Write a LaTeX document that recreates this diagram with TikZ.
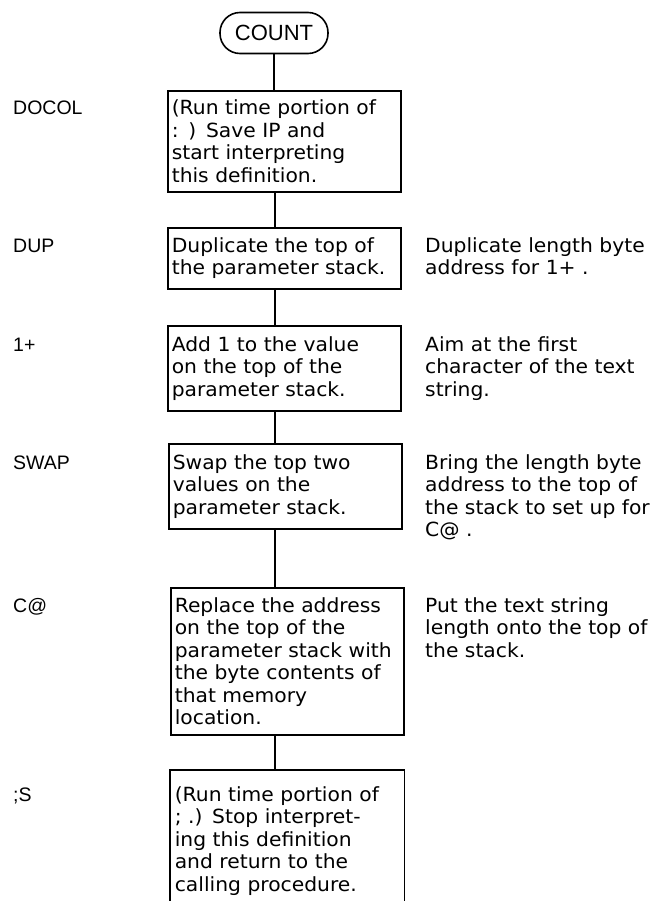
\documentclass[tikz,border=0pt]{standalone}
\usepackage{fontspec}
\setmainfont{DejaVu Sans}[FakeStretch=1.04]
\newfontfamily\lblfont{Liberation Sans}
\usetikzlibrary{positioning}

\begin{document}
\begin{tikzpicture}[
      x=1bp, y=-1bp,
      font=\fontsize{19.5bp}{22.5bp}\selectfont,
      term/.style = {draw, line width=1.6bp, rounded corners=20bp, minimum width=108bp,
                     minimum height=41bp, inner sep=0pt, font=\fontsize{22bp}{24bp}\lblfont},
      stepbox/.style = {draw, line width=1.6bp, anchor=north west, text width=225bp,
                        inner xsep=4bp, inner ysep=0pt, align=left},
      word/.style = {anchor=base west, inner sep=0pt, font=\fontsize{19.5bp}{22bp}\lblfont},
      note/.style = {anchor=base west, inner sep=0pt, text width=240bp, align=left},
      link/.style = {line width=1.6bp},
    ]
    \useasboundingbox (0,0) rectangle (652,901);
    \coordinate (spine) at (275,0);
    \coordinate (wordcol) at (13,0);
    \coordinate (notecol) at (425,0);

    \node[term] (count) at (274,33) {COUNT};

    \node[stepbox, minimum height=101bp] (s1) at (167,90)
      {(Run time portion of\\: ) Save IP and\\start interpreting\\this definition.};
    \node[stepbox, minimum height=61bp] (s2) at (167,227)
      {Duplicate the top of\\the parameter stack.};
    \node[stepbox, minimum height=85bp] (s3) at (167,325)
      {Add 1 to the value\\on the top of the\\parameter stack.};
    \node[stepbox, minimum height=85bp] (s4) at (168,443)
      {Swap the top two\\values on the\\parameter stack.};
    \node[stepbox, minimum height=147bp] (s5) at (170,587)
      {Replace the address\\on the top of the\\parameter stack with\\the byte contents of\\that memory\\location.};
    \node[stepbox, draw=none, minimum height=140bp] (s6) at (170,770)
      {(Run time portion of\\; .) Stop interpret-\\ing this definition\\and return to the\\calling procedure.};
    \draw[link] (s6.south west) |- (s6.north east) -- (s6.south east);

    \node[word] (w1) at (s1.base -| wordcol) {DOCOL};
    \node[word] (w2) at (s2.base -| wordcol) {DUP};
    \node[word] (w3) at (s3.base -| wordcol) {1+};
    \node[word] (w4) at (s4.base -| wordcol) {SWAP};
    \node[word] (w5) at (s5.base -| wordcol) {C@};
    \node[word] (w6) at (s6.base -| wordcol) {;S};

    \node[note] (n2) at (s2.base -| notecol) {Duplicate length byte\\address for 1+ .};
    \node[note] (n3) at (s3.base -| notecol) {Aim at the first\\character of the text\\string.};
    \node[note] (n4) at (s4.base -| notecol)
      {Bring the length byte\\address to the top of\\the stack to set up for\\C@ .};
    \node[note] (n5) at (s5.base -| notecol)
      {Put the text string\\length onto the top of\\the stack.};

    \draw[link] (count) -- (count |- s1.north);
    \draw[link] (s1.south -| spine) -- (s2.north -| spine);
    \draw[link] (s2.south -| spine) -- (s3.north -| spine);
    \draw[link] (s3.south -| spine) -- (s4.north -| spine);
    \draw[link] (s4.south -| spine) -- (s5.north -| spine);
    \draw[link] (s5.south -| spine) -- (s6.north -| spine);
  \end{tikzpicture}
\end{document}
